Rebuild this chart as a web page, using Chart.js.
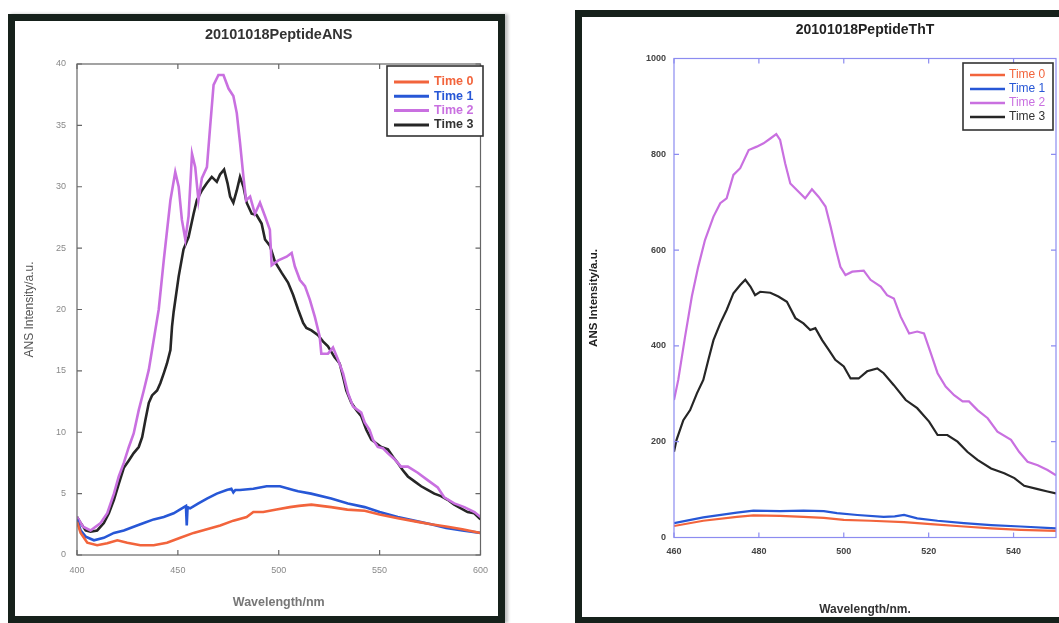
<!DOCTYPE html>
<html>
<head>
<meta charset="utf-8">
<script src="https://cdn.jsdelivr.net/npm/chart.js@4.4.1/dist/chart.umd.min.js"></script>
<style>
  html, body { margin: 0; padding: 0; background: #fff; overflow: hidden; width: 1059px; height: 623px; }
  .frame { position: absolute; box-sizing: border-box; border: 7px solid #16211b; background: #fff; }
  #frameAns { left: 8px; top: 14px; width: 497px; height: 609px; box-shadow: 3px 0 3px rgba(0,0,0,0.25); }
  #frameTht { left: 575px; top: 10px; width: 500px; height: 614px; }
  canvas { display: block; }
</style>
</head>
<body>
<div class="frame" id="frameAns"><canvas id="ansChart" width="483" height="595"></canvas></div>
<div class="frame" id="frameTht"><canvas id="thtChart" width="477" height="600"></canvas></div>

<script>
// ---- series labels and colours ----
const seriesNames = ['Time 0', 'Time 1', 'Time 2', 'Time 3'];
const seriesColors = ['#f2643c', '#2757d6', '#c970e0', '#262626'];

// ---- 20101018PeptideANS : wavelength (nm) / intensity (a.u.) ----
const ansWl0  = [400, 401.8, 405.1, 410, 415, 420, 424.9, 431.4, 438, 444.6, 451.2, 457.8, 464.4, 471, 477.5, 484.1, 487.4, 492.3, 498.9, 505.5, 510, 516.2, 521, 526, 534, 542.6, 550, 559, 568.9, 575.5, 583.7, 591, 600];
const ansInt0 = [2.7, 1.8, 1.0, 0.8, 0.95, 1.2, 1.0, 0.8, 0.8, 1.0, 1.4, 1.8, 2.1, 2.4, 2.8, 3.1, 3.5, 3.5, 3.7, 3.9, 4.0, 4.1, 4.0, 3.9, 3.7, 3.6, 3.3, 3.0, 2.7, 2.5, 2.3, 2.1, 1.8];

const ansWl1  = [400, 401.8, 404.3, 408.4, 413.3, 418.3, 423.2, 428.1, 433.1, 438, 443, 447.9, 452, 454, 454.4, 454.8, 456.1, 460.2, 464.4, 469.3, 474.2, 476.5, 477.5, 478.5, 480.8, 487.4, 494, 500.6, 507.2, 509.6, 516, 526, 534.3, 542.6, 550, 559, 567, 575.5, 583, 591, 600];
const ansInt1 = [2.9, 2.0, 1.5, 1.2, 1.4, 1.8, 2.0, 2.3, 2.6, 2.9, 3.1, 3.4, 3.8, 4.0, 2.4, 3.9, 3.8, 4.2, 4.6, 5.0, 5.3, 5.4, 5.1, 5.3, 5.3, 5.4, 5.6, 5.6, 5.3, 5.2, 5.0, 4.6, 4.2, 3.9, 3.5, 3.1, 2.8, 2.5, 2.2, 2.0, 1.8];

const ansWl2  = [400, 403, 406.7, 411.7, 415, 418.3, 420.7, 423.2, 425.7, 428.1, 430.6, 433.1, 435.6, 437.2, 438.8, 440.5, 443, 446.3, 448.7, 450.4, 452, 453.7, 455.3, 457, 458.6, 460.2, 461.9, 464.4, 466, 467.7, 470.1, 472.6, 475.1, 477.5, 479.2, 480.8, 482.5, 483.8, 485.8, 488.2, 490.7, 493.2, 495.6, 496.5, 499.8, 503.9, 506.4, 508, 510.5, 513, 515.4, 517.9, 520.3, 521.1, 524.4, 526.9, 529.4, 531.9, 534.3, 536.8, 540.9, 542.6, 545, 546.7, 549.1, 551.6, 554, 557.4, 560.6, 564, 568.9, 573.8, 578.8, 582, 587, 592, 597, 600];
const ansInt2 = [3.1, 2.3, 2.0, 2.6, 3.4, 5.0, 6.4, 7.5, 8.8, 9.9, 11.8, 13.4, 15.1, 16.7, 18.3, 20.0, 24.0, 28.9, 31.2, 30.0, 27.3, 25.7, 27.6, 32.7, 31.6, 28.9, 30.7, 31.6, 34.9, 38.3, 39.1, 39.1, 38.0, 37.4, 36.0, 33.6, 30.8, 28.9, 29.2, 27.8, 28.7, 27.6, 26.5, 23.6, 24.0, 24.3, 24.6, 23.5, 22.4, 21.9, 20.8, 19.4, 17.8, 16.4, 16.4, 16.9, 15.9, 14.8, 13.2, 12.1, 11.6, 10.8, 10.2, 9.4, 8.8, 8.7, 8.3, 7.8, 7.2, 7.2, 6.7, 6.1, 5.5, 4.7, 4.2, 3.9, 3.5, 3.1];

const ansWl3  = [400, 401.8, 404.3, 406.7, 410, 413.3, 415.8, 418.3, 420.7, 423.2, 425.7, 428.1, 430.6, 432.3, 433.9, 435.6, 437.2, 439.7, 441.3, 443, 444.6, 446.3, 447.1, 447.9, 450.4, 452.8, 455.3, 457.8, 459.4, 461.9, 464.4, 466.8, 469.3, 470.9, 472.9, 474.6, 475.9, 477.5, 479.2, 480.8, 482.5, 484.1, 486.6, 489, 491.5, 493.2, 495.6, 498.1, 501.4, 504.6, 507.1, 509.6, 512.1, 513.7, 516.2, 519.5, 521.9, 524.4, 527.7, 530.2, 531.9, 533.5, 536, 538.5, 540.9, 543.4, 545.9, 548.3, 550.8, 554.1, 556.6, 559, 561.5, 564, 567.3, 570.6, 573.8, 577.1, 580.4, 583.7, 587, 590.3, 593.6, 596.9, 600];
const ansInt3 = [3.1, 2.6, 2.0, 1.9, 2.0, 2.6, 3.4, 4.5, 5.8, 7.1, 7.7, 8.3, 8.8, 9.6, 11.0, 12.4, 13.0, 13.4, 14.0, 14.8, 15.6, 16.7, 18.6, 19.8, 22.7, 24.9, 25.9, 27.8, 28.9, 29.7, 30.3, 30.8, 30.4, 31.0, 31.4, 30.3, 29.2, 28.7, 29.7, 30.8, 30.0, 28.7, 27.8, 27.7, 27.0, 25.7, 25.2, 23.9, 23.0, 22.2, 21.2, 20.0, 18.9, 18.5, 18.3, 17.9, 17.4, 17.0, 16.1, 15.6, 14.5, 13.4, 12.4, 11.8, 11.3, 10.2, 9.4, 9.1, 8.8, 8.6, 8.0, 7.5, 6.9, 6.4, 6.0, 5.6, 5.3, 5.0, 4.8, 4.5, 4.1, 3.8, 3.5, 3.4, 2.9];

const ansXTicks = [400, 450, 500, 550, 600];
const ansYTicks = [0, 5, 10, 15, 20, 25, 30, 35, 40];

// ---- 20101018PeptideThT : wavelength (nm) / intensity (a.u.) ----
const thtWl0  = [460, 466.9, 474.8, 478.7, 485, 490.5, 495.3, 500, 506.3, 514.2, 520.5, 528.3, 534.7, 541.7, 550];
const thtInt0 = [24, 35, 43, 46, 45, 43, 41, 37, 35, 32, 28, 23, 19, 16, 14];

const thtWl1  = [460, 466.9, 474.8, 478.7, 485, 490.5, 495.3, 498.4, 503.2, 509.4, 512, 514.2, 517.3, 522.1, 528.3, 534.7, 541.7, 550];
const thtInt1 = [30, 42, 52, 56, 55, 56, 55, 51, 47, 43, 44, 47, 40, 35, 30, 26, 23, 19];

const thtWl2  = [460, 461, 462.6, 464.2, 465.7, 467.3, 469.3, 470.9, 472.4, 474, 475.6, 477.6, 479.5, 481.1, 482.7, 484.1, 485, 486.2, 487.4, 489, 490.9, 492.5, 494.1, 495.7, 496.9, 498, 499.2, 500.4, 502, 504.7, 506.3, 508.7, 510.2, 511.8, 513.4, 515.4, 517.3, 518.9, 520.5, 522.1, 524, 526, 528, 529.5, 531.5, 533.9, 536.2, 539.4, 541.3, 543.3, 545.7, 548, 550];
const thtInt2 = [287, 329, 419, 503, 565, 621, 670, 698, 708, 757, 771, 809, 816, 823, 833, 842, 830, 781, 739, 725, 708, 727, 711, 691, 649, 607, 565, 548, 555, 557, 538, 524, 506, 499, 461, 426, 430, 426, 385, 343, 315, 297, 284, 284, 266, 249, 221, 204, 179, 158, 151, 141, 130];

const thtWl3  = [460, 460.6, 462.2, 463.8, 465.4, 466.9, 468.1, 469.3, 470.9, 472.4, 474, 475.6, 476.8, 478, 479.1, 480.3, 482.7, 484.6, 486.6, 488.6, 490.5, 492.1, 493.3, 494.9, 496.5, 498, 500, 501.6, 503.5, 505.5, 507.9, 509.4, 511.8, 514.6, 517.3, 520.1, 522.1, 524.4, 526.8, 529.1, 531.5, 534.7, 537.8, 540.2, 542.5, 545.7, 548, 550];
const thtInt3 = [179, 204, 245, 266, 301, 329, 371, 412, 447, 475, 510, 527, 538, 524, 506, 513, 511, 503, 492, 458, 447, 433, 437, 412, 391, 371, 357, 332, 332, 347, 353, 343, 318, 287, 270, 242, 214, 214, 200, 179, 162, 144, 134, 124, 108, 101, 96, 92];

const thtXTicks = [460, 480, 500, 520, 540];
const thtYTicks = [0, 200, 400, 600, 800, 1000];

// ---- helpers ----
function points(xs, ys) { return xs.map((x, i) => ({ x: x, y: ys[i] })); }

function buildDatasets(pairs, width) {
  return pairs.map((p, i) => ({
    label: seriesNames[i],
    data: points(p[0], p[1]),
    borderColor: seriesColors[i],
    backgroundColor: seriesColors[i],
    borderWidth: width,
    pointRadius: 0,
    tension: 0,
    fill: false
  }));
}

// Closed plot box with inward tick marks on all four sides
const plotFrame = {
  id: 'plotFrame',
  afterDatasetsDraw(chart, args, o) {
    const { ctx, chartArea: a, scales } = chart;
    const x = scales.x, y = scales.y;
    ctx.save();
    ctx.strokeStyle = o.color;
    ctx.lineWidth = o.width;
    ctx.strokeRect(a.left, a.top, a.right - a.left, a.bottom - a.top);
    ctx.beginPath();
    x.ticks.forEach(t => {
      const px = x.getPixelForValue(t.value);
      ctx.moveTo(px, a.bottom); ctx.lineTo(px, a.bottom - o.tick);
      ctx.moveTo(px, a.top); ctx.lineTo(px, a.top + o.tick);
    });
    y.ticks.forEach(t => {
      const py = y.getPixelForValue(t.value);
      ctx.moveTo(a.left, py); ctx.lineTo(a.left + o.tick, py);
      ctx.moveTo(a.right, py); ctx.lineTo(a.right - o.tick, py);
    });
    ctx.stroke();
    ctx.restore();
  }
};

// Boxed legend inside the plot, text coloured like its line
const boxLegend = {
  id: 'boxLegend',
  afterDatasetsDraw(chart, args, o) {
    const ctx = chart.ctx;
    ctx.save();
    ctx.fillStyle = '#fff';
    ctx.fillRect(o.left, o.top, o.width, o.height);
    ctx.strokeStyle = '#333';
    ctx.lineWidth = 1.6;
    ctx.strokeRect(o.left, o.top, o.width, o.height);
    ctx.font = o.font;
    ctx.textBaseline = 'middle';
    ctx.textAlign = 'left';
    chart.data.datasets.forEach((ds, i) => {
      const yy = o.top + o.firstRow + i * o.rowGap;
      ctx.strokeStyle = ds.borderColor;
      ctx.lineWidth = o.lineWidth;
      ctx.beginPath();
      ctx.moveTo(o.left + o.sampleStart, yy);
      ctx.lineTo(o.left + o.sampleEnd, yy);
      ctx.stroke();
      ctx.fillStyle = ds.label === 'Time 3' ? '#333' : ds.borderColor;
      ctx.fillText(ds.label, o.left + o.textX, yy);
    });
    ctx.restore();
  }
};

const FONT = "'Liberation Sans', Arial, sans-serif";

// ---- ANS chart ----
new Chart(document.getElementById('ansChart'), {
  type: 'line',
  data: {
    datasets: buildDatasets([[ansWl0, ansInt0], [ansWl1, ansInt1], [ansWl2, ansInt2], [ansWl3, ansInt3]], 2.6)
  },
  options: {
    responsive: false,
    animation: false,
    devicePixelRatio: 1,
    layout: { padding: { top: 0, right: 15, bottom: 0, left: 0 } },
    plugins: {
      legend: { display: false },
      tooltip: { enabled: false },
      title: {
        display: true,
        fullSize: false,
        text: '20101018PeptideANS',
        color: '#333',
        font: { family: FONT, size: 14.5, weight: 'bold' },
        padding: { top: 5.3, bottom: 20.3 }
      },
      plotFrame: { color: '#666', width: 1.2, tick: 5 },
      boxLegend: { left: 372, top: 45, width: 96, height: 70, firstRow: 16, rowGap: 14.3,
                   sampleStart: 7, sampleEnd: 42, textX: 47, lineWidth: 3,
                   font: "bold 12.5px " + FONT }
    },
    scales: {
      x: {
        type: 'linear', min: 400, max: 600,
        afterBuildTicks: s => { s.ticks = ansXTicks.map(v => ({ value: v })); },
        afterFit: s => { s.height = 61; },
        grid: { display: false, drawTicks: false },
        border: { display: false },
        ticks: { color: '#888', font: { family: FONT, size: 9 }, padding: 10, maxRotation: 0 },
        title: { display: true, text: 'Wavelength/nm', color: '#777', font: { family: FONT, size: 12.5, weight: 'bold' }, padding: { top: 0, bottom: 5.5 } }
      },
      y: {
        type: 'linear', min: 0, max: 40,
        afterBuildTicks: s => { s.ticks = ansYTicks.map(v => ({ value: v })); },
        afterFit: s => { s.width = 62; },
        grid: { display: false, drawTicks: false },
        border: { display: false },
        ticks: { color: '#888', font: { family: FONT, size: 9 }, padding: 11 },
        title: { display: true, text: 'ANS Intensity/a.u.', color: '#555', font: { family: FONT, size: 12 }, padding: { top: 7.8, bottom: 0 } }
      }
    }
  },
  plugins: [plotFrame, boxLegend]
});

// ---- ThT chart ----
new Chart(document.getElementById('thtChart'), {
  type: 'line',
  data: {
    datasets: buildDatasets([[thtWl0, thtInt0], [thtWl1, thtInt1], [thtWl2, thtInt2], [thtWl3, thtInt3]], 2.2)
  },
  options: {
    responsive: false,
    animation: false,
    devicePixelRatio: 1,
    layout: { padding: { top: 0, right: 3, bottom: 0, left: 0 } },
    plugins: {
      legend: { display: false },
      tooltip: { enabled: false },
      title: {
        display: true,
        fullSize: false,
        text: '20101018PeptideThT',
        color: '#222',
        font: { family: FONT, size: 14, weight: 'bold' },
        padding: { top: 4.6, bottom: 20.1 }
      },
      plotFrame: { color: '#8c8cf0', width: 1.2, tick: 5 },
      boxLegend: { left: 381, top: 46, width: 90, height: 67, firstRow: 12, rowGap: 14,
                   sampleStart: 7, sampleEnd: 42, textX: 46, lineWidth: 2.6,
                   font: "12px " + FONT }
    },
    scales: {
      x: {
        type: 'linear', min: 460, max: 550,
        afterBuildTicks: s => { s.ticks = thtXTicks.map(v => ({ value: v })); },
        afterFit: s => { s.height = 79.5; },
        grid: { display: false, drawTicks: false },
        border: { display: false },
        ticks: { color: '#444', font: { family: FONT, size: 9, weight: 'bold' }, padding: 9, maxRotation: 0,
                 callback: v => String(v) },
        title: { display: true, text: 'Wavelength/nm.', color: '#333', font: { family: FONT, size: 12, weight: 'bold' }, padding: { top: 0, bottom: 0 } }
      },
      y: {
        type: 'linear', min: 0, max: 1000,
        afterBuildTicks: s => { s.ticks = thtYTicks.map(v => ({ value: v })); },
        afterFit: s => { s.width = 92; },
        grid: { display: false, drawTicks: false },
        border: { display: false },
        ticks: { color: '#444', font: { family: FONT, size: 9, weight: 'bold' }, padding: 8,
                 callback: v => String(v) },
        title: { display: true, text: 'ANS Intensity/a.u.', color: '#222', font: { family: FONT, size: 11.5, weight: 'bold' }, padding: { top: 5.1, bottom: 0 } }
      }
    }
  },
  plugins: [plotFrame, boxLegend]
});
</script>
</body>
</html>
